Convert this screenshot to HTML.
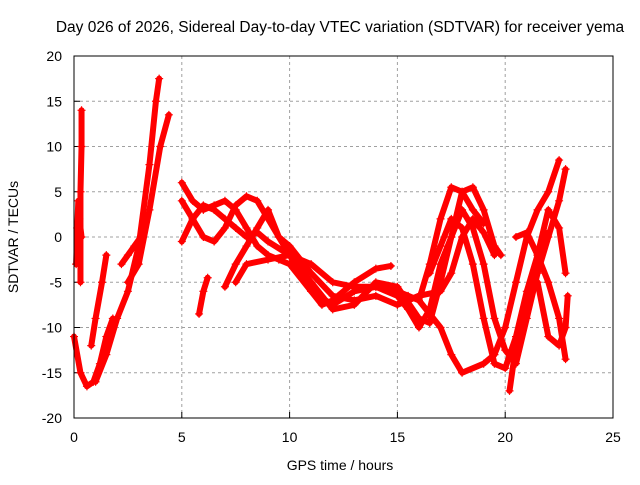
<!DOCTYPE html>
<html><head><meta charset="utf-8"><style>
body{margin:0;background:#fff;width:640px;height:480px;overflow:hidden}
svg{font-family:"Liberation Sans",sans-serif;font-size:14px}
</style></head><body>
<svg id="chart" width="640" height="480" xmlns="http://www.w3.org/2000/svg">
<text x="340" y="32" text-anchor="middle" font-size="15.5">Day 026 of 2026, Sidereal Day-to-day VTEC variation (SDTVAR) for receiver yema</text>
<text x="340" y="470" text-anchor="middle">GPS time / hours</text>
<text transform="translate(18,237) rotate(-90)" text-anchor="middle">SDTVAR / TECUs</text>
<g id="grid"></g>
<g id="ticks"></g>
<g id="series"></g>
<rect x="74" y="56" width="539" height="362" fill="none" stroke="#000" stroke-width="1"/>
</svg>
<script>
const xTicks=[0,5,10,15,20,25];
const yTicks=[-20,-15,-10,-5,0,5,10,15,20];
const track1=[[1.0,-16],[1.5,-13],[2,-9],[2.5,-6],[3,-1],[3.5,8],[3.8,15],[3.95,17.5]];
const track2=[[2.5,-5],[3,-3],[3.5,3],[4,10],[4.4,13.5]];
const track3=[[0,-11],[0.3,-15],[0.6,-16.5],[0.9,-16],[1.2,-14],[1.5,-11],[1.8,-9]];
const track4=[[0.3,-5],[0.3,0],[0.3,5],[0.35,10],[0.35,14]];
const track5=[[5,6],[5.5,4],[6,3],[6.5,3.5],[7,4],[7.5,3],[8,1],[8.5,-1],[9,-2],[9.5,-2.5],[10,-3],[11,-6],[11.5,-7.5],[12,-7],[13,-5],[14,-3.5],[14.7,-3.2]];
const track6=[[5,4],[5.5,2],[6,0],[6.5,-0.5],[7,1],[7.5,3.5],[8,4.5],[8.5,4],[9,2],[9.5,0],[10,-2],[11,-6],[12,-7.5],[13,-6],[14,-5.5],[15,-6],[15.5,-6.5],[16,-7],[16.5,-3],[17,2],[17.5,5.5],[18,5],[18.5,3],[19,1.5]];
const track7=[[5,-0.5],[5.5,2],[6,3.5],[6.5,3],[7,2],[7.5,1],[8,0],[8.5,0.5],[9,-0.5],[10,-2],[11,-5],[12,-8],[13,-7.5],[14,-5],[15,-5.5],[16,-9],[16.5,-9.5],[17,-5],[17.5,0],[18,5],[18.5,5.5],[19,3],[19.5,-1],[19.8,-2]];
const track8=[[7,-5.5],[7.5,-3],[8,-1],[8.5,1],[9,3],[9.5,0],[10,-1],[11,-4],[12,-6.5],[13,-7],[14,-6.5],[15,-7.5],[16,-6.5],[17,-6],[17.5,-4],[18,0],[18.5,2],[19,0.5],[19.5,-2]];
const track9=[[7.5,-5],[8,-3],[9,-2.5],[10,-2],[11,-3],[12,-5],[13,-5.5],[14,-5.5],[15,-6.5],[15.5,-8],[16,-10],[16.5,-8],[17,-3],[17.5,0],[18,3],[18.5,1],[19,-3],[19.5,-9],[20,-12.5],[20.5,-14],[21,-9],[21.5,-4],[22,0],[22.5,4],[22.8,7.5]];
const track10=[[16,-7],[17,-10],[17.5,-13],[18,-15],[19,-14],[19.5,-13],[20,-10],[20.5,-5],[21,0],[21.5,3],[22,5],[22.5,8.5]];
const track11=[[16.5,-4],[17,-1],[17.5,2],[18,1],[18.5,-3],[19,-9],[19.5,-14],[20,-14.5],[20.5,-11],[21,-6],[21.5,-2],[22,3],[22.5,1],[22.8,-4]];
const track12=[[20.2,-17],[20.5,-12],[21,-8],[21.5,-3],[22,0.5]];
const track13=[[20.5,0],[21,0.5],[21.5,-2],[22,-5],[22.5,-9],[22.8,-13.5]];
const track14=[[21.5,-5],[22,-11],[22.5,-12],[22.8,-10],[22.9,-6.5]];
const track15=[[5.8,-8.5],[6,-6],[6.2,-4.5]];
const track16=[[0.8,-12],[1.0,-9],[1.3,-5],[1.5,-2]];
const track17=[[0.1,-3],[0.15,1],[0.2,4],[0.25,2],[0.35,0]];
const track18=[[2.2,-3],[2.5,-2],[2.8,-1],[3.1,0]];
const track19=[[15,-6.5],[15.5,-7],[16,-6.5]];
const allTracks=[track1,track2,track3,track4,track5,track6,track7,track8,track9,track10,track11,track12,track13,track14,track15,track16,track17,track18,track19];
const X=v=>74+v*(539/25), Y=v=>237-v*(362/40);
const NS="http://www.w3.org/2000/svg";
const g=document.getElementById('grid'), t=document.getElementById('ticks'), s=document.getElementById('series');
function mk(tag,attrs,parent){const e=document.createElementNS(NS,tag);for(const k in attrs)e.setAttribute(k,attrs[k]);parent.appendChild(e);return e;}
xTicks.forEach(v=>{
  if(v>0&&v<25){const l=mk('line',{x1:X(v),x2:X(v),y1:56,y2:418,stroke:'#a0a0a0','stroke-dasharray':'3,3'},g);
  
  }
  mk('line',{x1:X(v),x2:X(v),y1:418,y2:412,stroke:'#000'},t);
  const tx=mk('text',{x:X(v),y:442,'text-anchor':'middle'},t);tx.textContent=v;
  
  
});
yTicks.forEach(v=>{
  if(v>-20&&v<20){const l=mk('line',{x1:74,x2:613,y1:Y(v),y2:Y(v),stroke:'#a0a0a0','stroke-dasharray':'3,3'},g);
  
  }
  mk('line',{x1:74,x2:80,y1:Y(v),y2:Y(v),stroke:'#000'},t);
  const tx=mk('text',{x:62,y:Y(v)+5,'text-anchor':'end'},t);tx.textContent=v;
  
  
});
allTracks.forEach(tr=>{
  const p=mk('polyline',{points:tr.map(d=>X(d[0])+','+Y(d[1])).join(' '),fill:'none',stroke:'#ff0000','stroke-width':6,'stroke-linejoin':'round','stroke-linecap':'round'},s);
  
  
  tr.forEach(d=>{
    const m=mk('path',{d:`M${X(d[0])-4},${Y(d[1])}h8M${X(d[0])},${Y(d[1])-4}v8`,stroke:'#ff0000','stroke-width':1.2},s);
    
    
  });
});
</script>
</body></html>
